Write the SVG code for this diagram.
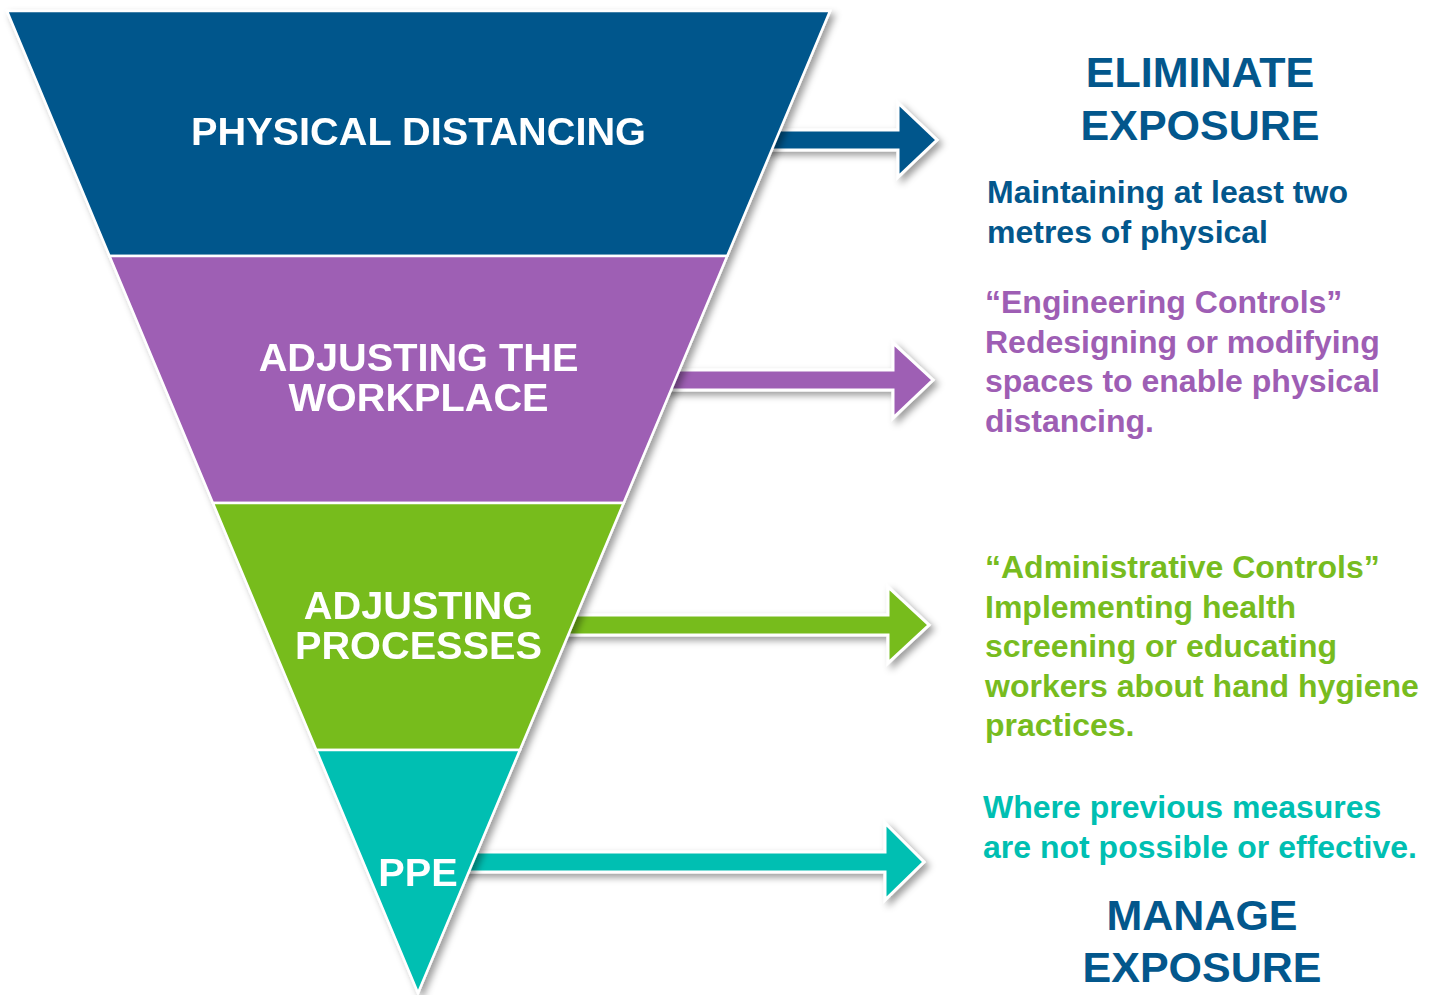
<svg xmlns="http://www.w3.org/2000/svg" width="1435" height="995" viewBox="0 0 1435 995">
<defs>
<filter id="sh" x="-10%" y="-10%" width="130%" height="130%">
<feDropShadow dx="4" dy="4" stdDeviation="3.5" flood-color="#000" flood-opacity="0.38"/>
</filter>
<style>
.band{stroke:#fff;stroke-width:2.5;stroke-linejoin:miter}
.arr{stroke:#fff;stroke-width:3;stroke-linejoin:miter}
.lbl{font-family:"Liberation Sans",Arial,sans-serif;font-weight:bold;fill:#fff;font-size:39.7px;text-anchor:middle}
.head{font-family:"Liberation Sans",Arial,sans-serif;font-weight:bold;fill:#03578C;font-size:43px;text-anchor:middle}
.body{font-family:"Liberation Sans",Arial,sans-serif;font-weight:bold;font-size:32px}
.blue{fill:#03578C}.purple{fill:#9E5EB4}.green{fill:#77BC1F}.teal{fill:#00BFB2}
</style>
</defs>
<rect width="1435" height="995" fill="#fff"/>
<g id="connectors">
<path class="arr blue" filter="url(#sh)" d="M760,130 H898 V103 L937,140 L898,177 V150 H760 Z"/>
<path class="arr purple" filter="url(#sh)" d="M660,370 H893 V343 L933,380 L893,418 V390 H660 Z"/>
<path class="arr green" filter="url(#sh)" d="M555,615 H888 V587 L929,625 L888,663 V635 H555 Z"/>
<path class="arr teal" filter="url(#sh)" d="M455,852 H885 V823 L924,862 L885,900 V872 H455 Z"/>
</g>
<g id="funnel" filter="url(#sh)">
<g id="node-physical-distancing">
<polygon class="band blue" points="7,11 830,11 727.2,256 109.5,256"/>
<text class="lbl" x="418.5" y="145">PHYSICAL DISTANCING</text>
</g>
<g id="node-adjusting-workplace">
<polygon class="band purple" points="109.5,256 727.2,256 623.6,503 212.9,503"/>
<text class="lbl" x="418.5" y="371">ADJUSTING THE</text>
<text class="lbl" x="418.5" y="411">WORKPLACE</text>
</g>
<g id="node-adjusting-processes">
<polygon class="band green" points="212.9,503 623.6,503 519.9,750 316.3,750"/>
<text class="lbl" x="418.5" y="619">ADJUSTING</text>
<text class="lbl" x="418.5" y="659">PROCESSES</text>
</g>
<g id="node-ppe">
<polygon class="band teal" points="316.3,750 519.9,750 418,993"/>
<text class="lbl" x="418" y="886">PPE</text>
</g>
</g>
<g id="node-eliminate">
<text class="head" x="1200" y="87">ELIMINATE</text>
<text class="head" x="1200" y="140">EXPOSURE</text>
</g>
<g id="desc-physical" class="body blue">
<text x="987" y="203">Maintaining at least two</text>
<text x="987" y="243">metres of physical</text>
</g>
<g id="desc-engineering" class="body purple">
<text x="985" y="313">“Engineering Controls”</text>
<text x="985" y="353">Redesigning or modifying</text>
<text x="985" y="392">spaces to enable physical</text>
<text x="985" y="432">distancing.</text>
</g>
<g id="desc-administrative" class="body green">
<text x="985" y="578">“Administrative Controls”</text>
<text x="985" y="618">Implementing health</text>
<text x="985" y="657">screening or educating</text>
<text x="985" y="697">workers about hand hygiene</text>
<text x="985" y="736">practices.</text>
</g>
<g id="desc-ppe" class="body teal">
<text x="983" y="818">Where previous measures</text>
<text x="983" y="858">are not possible or effective.</text>
</g>
<g id="node-manage">
<text class="head" x="1202" y="930">MANAGE</text>
<text class="head" x="1202" y="982">EXPOSURE</text>
</g>
</svg>
